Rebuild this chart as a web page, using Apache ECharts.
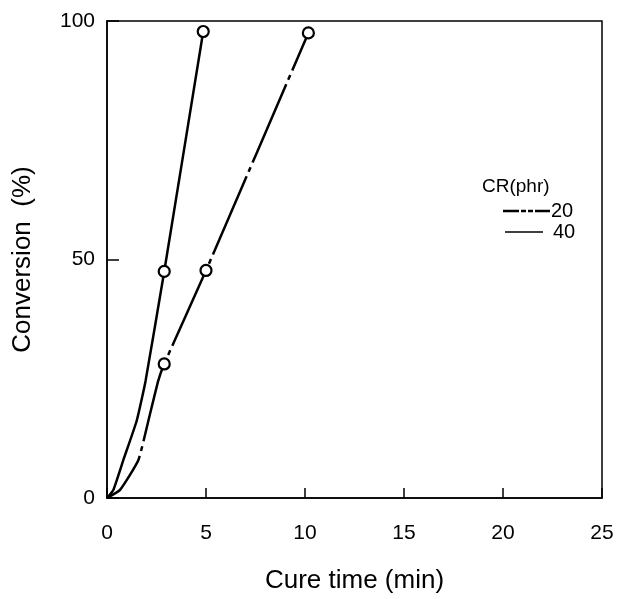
<!DOCTYPE html>
<html><head><meta charset="utf-8">
<script src="https://cdn.jsdelivr.net/npm/echarts@6/dist/echarts.min.js"></script>
<style>html,body{margin:0;padding:0;background:#fff}#c{width:619px;height:599px}</style>
</head><body><div id="c"></div>
<script>
// Axis ticks
var xTicks = [0, 5, 10, 15, 20, 25];
var yTicks = [0, 50, 100];
// CR = 20 phr (dash-dot curve) and its measured points
var curve20 = [[0, 0], [0.66, 1.7], [1.58, 7.9], [2.09, 16.2], [2.59, 24.6], [2.89, 28.1], [5.0, 47.7], [10.17, 97.5]];
var marks20 = [[2.89, 28.1], [5.0, 47.7], [10.17, 97.5]];
// CR = 40 phr (solid curve) and its measured points
var curve40 = [[0, 0], [0.32, 1.7], [0.82, 7.9], [1.5, 16.2], [1.95, 24.6], [2.89, 47.5], [4.86, 97.8]];
var marks40 = [[2.89, 47.5], [4.86, 97.8]];
var seriesNames = ['20', '40'];
var legendTitle = 'CR(phr)';

var font = '"Liberation Sans", Arial, sans-serif';
var chart = echarts.init(document.getElementById('c'));
var markStyle = { color: '#fff', borderColor: '#000', borderWidth: 2.2, opacity: 1 };
chart.setOption({
  animation: false,
  backgroundColor: '#fff',
  grid: { left: 107, right: 17, top: 21, bottom: 96, show: true, borderColor: '#000', borderWidth: 1.5, backgroundColor: 'transparent' },
  xAxis: {
    type: 'value', min: 0, max: 25, interval: 5,
    name: 'Cure time (min)', nameLocation: 'middle', nameGap: 70,
    nameTextStyle: { fontFamily: font, fontSize: 26, color: '#000' },
    axisLine: { lineStyle: { color: '#000', width: 1.5 } },
    axisTick: { inside: true, length: 10, lineStyle: { color: '#000', width: 1.5 } },
    axisLabel: { fontFamily: font, fontSize: 21, color: '#000', margin: 25 },
    splitLine: { show: false }
  },
  yAxis: {
    type: 'value', min: 0, max: 100, interval: 50,
    name: 'Conversion  (%)', nameLocation: 'middle', nameGap: 71,
    nameTextStyle: { fontFamily: font, fontSize: 26, color: '#000' },
    axisLine: { lineStyle: { color: '#000', width: 1.5 } },
    axisTick: { inside: true, length: 12, lineStyle: { color: '#000', width: 1.5 } },
    axisLabel: { fontFamily: font, fontSize: 21, color: '#000', margin: 12 },
    splitLine: { show: false }
  },
  series: [
    { name: seriesNames[0], type: 'line', data: curve20, smooth: 0.15, symbol: 'none',
      lineStyle: { color: '#000', width: 2.5, type: [85, 5, 5, 5], dashOffset: 30 }, z: 2 },
    { name: seriesNames[1], type: 'line', data: curve40, smooth: 0.15, symbol: 'none',
      lineStyle: { color: '#000', width: 2.5 }, z: 2 },
    { type: 'scatter', data: marks20, symbol: 'circle', symbolSize: 11, itemStyle: markStyle, z: 3 },
    { type: 'scatter', data: marks40, symbol: 'circle', symbolSize: 11, itemStyle: markStyle, z: 3 }
  ],
  graphic: [
    { type: 'text', left: 482, top: 177, style: { text: legendTitle, font: '19px ' + font, fill: '#000' } },
    { type: 'line', shape: { x1: 503, y1: 211, x2: 550, y2: 211 }, style: { stroke: '#000', lineWidth: 2.5, lineDash: [16, 2, 5, 2, 5, 2] } },
    { type: 'text', left: 551, top: 201, style: { text: seriesNames[0], font: '20px ' + font, fill: '#000' } },
    { type: 'line', shape: { x1: 505, y1: 232, x2: 543, y2: 232 }, style: { stroke: '#000', lineWidth: 1.6 } },
    { type: 'text', left: 553, top: 222, style: { text: seriesNames[1], font: '20px ' + font, fill: '#000' } }
  ]
});
</script></body></html>
